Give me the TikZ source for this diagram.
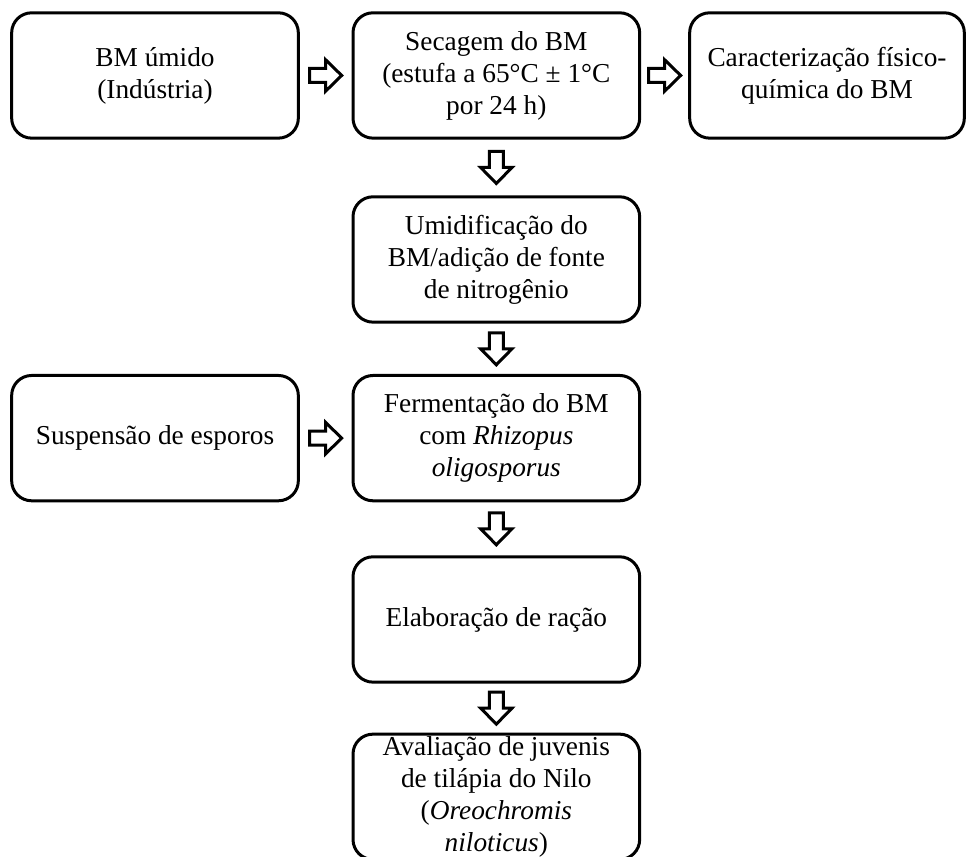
\documentclass[tikz,border=0pt]{standalone}
\usepackage{fontspec}
\setmainfont{Liberation Serif}
\usetikzlibrary{calc}

\tikzset{pics/seta/.style={code={
  \draw[line width=2.25pt, fill=white, line join=miter]
    (-12pt,-5.25pt) -- (0,-5.25pt) -- (0,-11.75pt) -- (12pt,0) -- (0,11.75pt) -- (0,5.25pt) -- (-12pt,5.25pt) -- cycle;
}}}

\begin{document}
\begin{tikzpicture}[node distance=135pt]
\tikzstyle{etapa} = [rectangle, rounded corners=15pt, draw, line width=2.25pt, minimum width=215pt, minimum height=94pt, inner sep=0pt, align=center, font=\fontsize{20.5}{24}\selectfont]

\useasboundingbox (0,0) rectangle (726pt,-642.75pt);

\node (bm) [etapa] at (116.25pt,-56.6pt) {BM úmido\\(Indústria)};
\node (sec) [etapa, node distance=256pt, right of=bm] {Secagem do BM\\(estufa a 65°C ± 1°C\\por 24 h)};
\node (car) [etapa, minimum width=206pt, node distance=248pt, right of=sec] {Caracterização físico-\\química do BM};
\node (umi) [etapa, node distance=138pt, below of=sec] {Umidificação do\\BM/adição de fonte\\de nitrogênio};
\node (fer) [etapa, node distance=134pt, below of=umi] {Fermentação do BM\\com \textit{Rhizopus}\\\textit{oligosporus}};
\node (sus) [etapa, node distance=256pt, left of=fer] {Suspensão de esporos};
\node (ela) [etapa, node distance=136pt, below of=fer] {Elaboração de ração};
\node (ava) [etapa, node distance=133pt, below of=ela] {Avaliação de juvenis\\de tilápia do Nilo\\(\textit{Oreochromis}\\\textit{niloticus})};

% setas entre as etapas
\pic (s1) at ($(bm.east)!0.5!(sec.west)$) {seta};
\pic (s2) at ($(sec.east)!0.5!(car.west)$) {seta};
\pic (s3) [rotate=-90] at ($(sec.south)!0.5!(umi.north)$) {seta};
\pic (s4) [rotate=-90] at ($(umi.south)!0.5!(fer.north)$) {seta};
\pic (s5) at ($(sus.east)!0.5!(fer.west)$) {seta};
\pic (s6) [rotate=-90] at ($(fer.south)!0.5!(ela.north)$) {seta};
\pic (s7) [rotate=-90] at ($(ela.south)!0.5!(ava.north)$) {seta};
\end{tikzpicture}
\end{document}
